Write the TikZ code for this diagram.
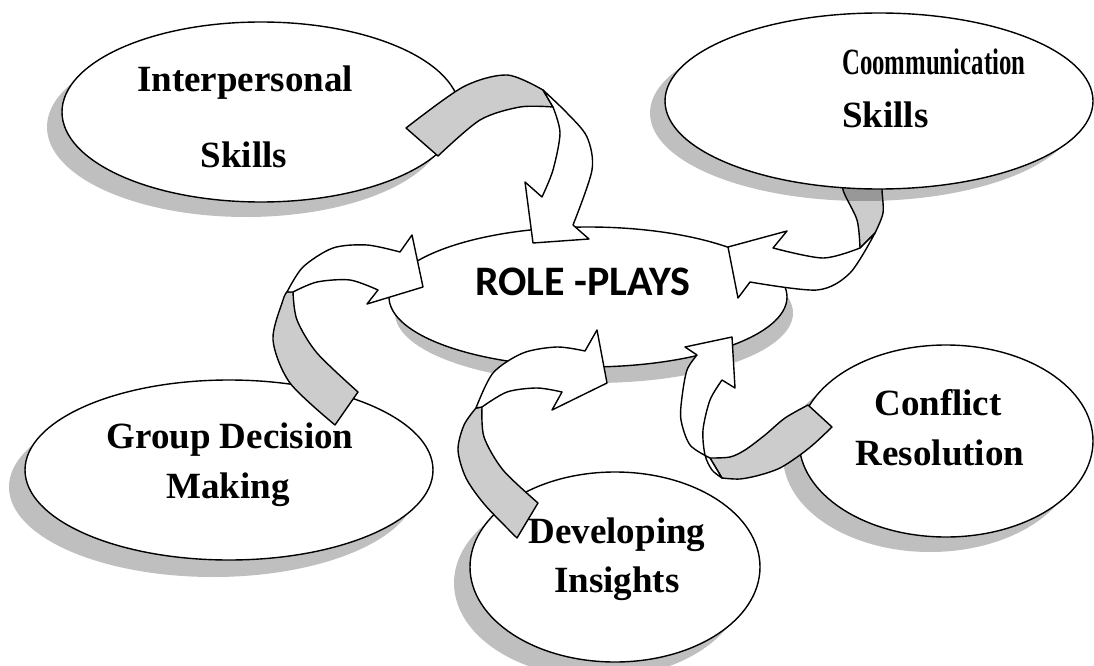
\documentclass[tikz,border=0pt]{standalone}
\usepackage{fontspec}
\setmainfont{Liberation Serif}
\newfontfamily\rolefont{Carlito}
\begin{document}
\begin{tikzpicture}[x=1pt,y=-1pt,line join=round,line cap=round,
  bubble/.style={draw,fill=white,line width=1.4pt},
  drop/.style={fill=black,fill opacity=.25},
  ribbonback/.style={draw,fill=black!20,line width=1.4pt},
  ribbonfront/.style={draw,fill=white,line width=1.4pt},
  lbl/.style={font=\bfseries\fontsize{37}{40}\selectfont,inner sep=0pt,anchor=base}]
\useasboundingbox (0,0) rectangle (1094,666);
% bubbles
\fill[drop] (246,127) ellipse (199 and 90);
\draw[bubble] (261,112) ellipse (199 and 90);
\fill[drop] (213,487) ellipse (204 and 90);
\draw[bubble] (229,470) ellipse (204 and 90);
\fill[drop] (599,583) ellipse (145 and 95);
\draw[bubble] (615,567) ellipse (145 and 95);
\fill[drop] (930,456) ellipse (147 and 96);
\draw[bubble] (946,441) ellipse (147 and 96);
\fill[drop] (594,313) ellipse (199 and 70);
\draw[bubble] (588,297) ellipse (199 and 70);
% communication arrow goes under its bubble
\draw[ribbonback] plot[smooth] coordinates {(843,170) (843,190) (857,220) (860,248)}
  -- plot[smooth] coordinates {(875,233) (883,213) (882,190) (882,170)} -- cycle;
\fill[drop] (864,113) ellipse (214 and 88);
\draw[bubble] (879,101) ellipse (214 and 88);
\draw[ribbonfront] plot[smooth] coordinates {(860,248) (823,258) (773,248)} -- (787,231) -- (728,247) -- (738,298)
  -- plot[smooth] coordinates {(750,282) (817,290) (850,273) (875,233)} -- cycle;
% interpersonal arrow
\draw[ribbonback] plot[smooth] coordinates {(406,128) (463,87) (507,75) (543,90)}
  -- plot[smooth] coordinates {(553,107) (520,107) (480,120) (438,156)} -- cycle;
\draw[ribbonfront] plot[smooth] coordinates {(543,90) (567,113) (587,137) (592,170) (573,225)} -- (589,239) -- (533,243) -- (525,182)
  -- plot[smooth] coordinates {(542,197) (553,170) (560,133) (553,107)} -- cycle;
% group decision arrow
\draw[ribbonback] plot[smooth] coordinates {(335,425) (290,383) (273,340) (283,300) (287,292)}
  -- plot[smooth] coordinates {(293,292) (297,320) (317,353) (358,392)} -- cycle;
\draw[ribbonfront] plot[smooth] coordinates {(287,292) (303,267) (333,248) (367,245) (400,252)} -- (412,235) -- (423,287) -- (367,304)
  -- plot[smooth] coordinates {(378,290) (350,280) (317,282) (293,292)} -- cycle;
% insights arrow
\draw[ribbonback] plot[smooth] coordinates {(517,538) (485,505) (466,478) (458,450) (464,425) (476,408)}
  -- plot[smooth] coordinates {(482,407) (484,437) (503,470) (538,503)} -- cycle;
\draw[ribbonfront] plot[smooth] coordinates {(476,408) (493,373) (523,353) (557,347) (585,351)} -- (597,330) -- (607,383) -- (552,410)
  -- plot[smooth] coordinates {(562,392) (537,388) (507,392) (482,407)} -- cycle;
% conflict arrow
\draw[ribbonback] plot[smooth] coordinates {(710,458) (730,457) (745,450) (765,435) (785,418) (808,405)}
  -- plot[smooth] coordinates {(832,427) (815,443) (800,455) (780,468) (760,475) (740,479) (722,478)} -- cycle;
\draw[ribbonfront] plot[smooth] coordinates {(710,458) (690,445) (681,420) (682,397) (687,370) (697,355)} -- (685,347) -- (732,337) -- (735,388)
  -- plot[smooth] coordinates {(722,380) (710,400) (703,430) (705,455) (712,470) (722,478)} -- cycle;
% texts
\node[lbl] (inter) at (245,92) {Interpersonal};
\node[lbl] (interb) at (244,167) {Skills};
\node[lbl,anchor=base west] (comm) at (842,75) {\scalebox{.67}[1]{Coommunication}};
\node[lbl,anchor=base west] (commb) at (842,128) {Skills};
\node[lbl] (group) at (230,448) {Group Decision};
\node[lbl] (groupb) at (228,498) {Making};
\node[lbl] (dev) at (617,543) {Developing};
\node[lbl] (devb) at (617,592) {Insights};
\node[lbl] (conf) at (938,415) {Conflict};
\node[lbl] (confb) at (940,465) {Resolution};
\node[font=\rolefont\bfseries\fontsize{42}{46}\selectfont,inner sep=0pt,anchor=base] (role) at (583,295) {ROLE -PLAYS};
\end{tikzpicture}
\end{document}
